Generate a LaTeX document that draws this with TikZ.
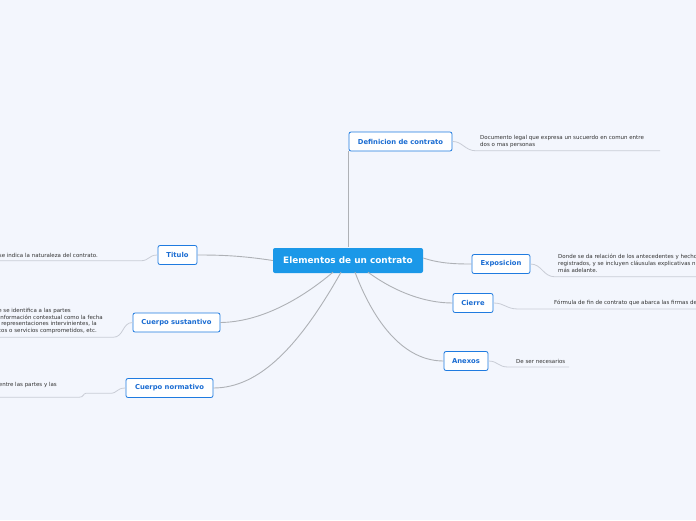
\documentclass[tikz,border=0pt]{standalone}
\usepackage{fontspec}
\setmainfont{DejaVu Sans}
\definecolor{bg}{HTML}{F3F6FD}
\definecolor{mainblue}{HTML}{1B98E8}
\definecolor{childblue}{HTML}{1F7BE0}
\definecolor{childtext}{HTML}{1A6CD2}
\definecolor{leafgray}{HTML}{333333}
\definecolor{linegray}{HTML}{AEB1B6}
\definecolor{leafline}{HTML}{C9CDD6}
\begin{document}
\begin{tikzpicture}[x=1pt,y=-1pt,
  mainnode/.style={fill=mainblue, rounded corners=2pt, text=white,
    font=\bfseries\fontsize{8.9}{10}\selectfont, minimum width=150pt, minimum height=25pt, inner sep=0pt},
  childnode/.style={draw=childblue, line width=0.8pt, fill=white, rounded corners=2pt,
    text=childtext, font=\bfseries\fontsize{6.8}{8}\selectfont, minimum height=19pt, inner sep=0pt},
  leaf/.style={text=leafgray, font=\fontsize{5.5}{6.7}\selectfont, inner sep=0pt, align=left},
  conn/.style={draw=linegray, line width=0.9pt},
  leafconn/.style={draw=leafline, line width=0.8pt}]
\fill[bg] (0,0) rectangle (696,520);
\useasboundingbox (0,0) rectangle (696,520);
\clip (0,0) rectangle (696,520);

% nodes
\node[mainnode] (c) at (348,260.5) {Elementos de un contrato};
\node[childnode, minimum width=103pt] (def) at (400.5,141.5) {Definicion de contrato};
\node[childnode, minimum width=58pt] (exp) at (501,264) {Exposicion};
\node[childnode, minimum width=40pt] (cie) at (473,303) {Cierre};
\node[childnode, minimum width=44pt] (anx) at (466,361) {Anexos};
\node[childnode, minimum width=39pt] (tit) at (177.5,255) {Titulo};
\node[childnode, minimum width=87pt] (sus) at (176.5,322.5) {Cuerpo sustantivo};
\node[childnode, minimum width=87pt] (nor) at (169.5,388) {Cuerpo normativo};

% leaf texts
\node[leaf, anchor=west] (ldef) at (480,141.6) {Documento legal que expresa un sucuerdo en comun entre\\dos o mas personas};
\node[leaf, anchor=west] (lexp) at (558,263.5) {Donde se da relación de los antecedentes y hecho\\registrados, y se incluyen cláusulas explicativas n\\más adelante.};
\node[leaf, anchor=west] (lcie) at (554,303) {Fórmula de fin de contrato que abarca las firmas de};
\node[leaf, anchor=west] (lanx) at (516,361) {De ser necesarios};
\node[leaf, anchor=east] (ltit) at (98,255) {se indica la naturaleza del contrato.};
\node[leaf, anchor=east] (lsus1) at (71,311) {e se identifica a las partes};
\node[leaf, anchor=east] (lsus2) at (103,317.6) {información contextual como la fecha};
\node[leaf, anchor=east] (lsus3) at (97,324.2) {representaciones intervinientes, la};
\node[leaf, anchor=east] (lsus4) at (97,330.8) {cos o servicios comprometidos, etc.};
\node[leaf, anchor=east] (lnor) at (57,385) {entre las partes y las};

% leaf underline end points
\coordinate (udef) at (660,150.8);
\coordinate (uexp) at (696,276.8);
\coordinate (ucie) at (696,309);
\coordinate (uanx) at (569,367);
\coordinate (utit) at (0,260.8);
\coordinate (usus) at (0,337.3);
\coordinate (unor) at (0,397.3);

% main connectors
\draw[conn] ([xshift=0pt]c.north) ++(0,-1) coordinate (cn) -- (cn |- def.south);
\draw[conn] (c.west) .. controls (240,255.5) and (220,255) .. (tit.east);
\draw[conn] ([yshift=2.5pt]c.east) .. controls (440,263.5) and (455,264) .. (exp.west);
\draw[conn] ([xshift=20pt,yshift=1pt]c.south) .. controls (395,292) and (425,303) .. (cie.west);
\draw[conn] ([xshift=7pt,yshift=1pt]c.south) .. controls (375,325) and (405,361) .. (anx.west);
\draw[conn] ([xshift=-15pt,yshift=1pt]c.south) .. controls (300,300) and (260,322) .. (sus.east);
\draw[conn] ([xshift=-7pt,yshift=1pt]c.south) .. controls (300,345) and (260,388) .. (nor.east);

% leaf connectors
\draw[leafconn] (def.east) .. controls (462,141) and (465,150.8) .. (476,150.8) -- (udef);
\draw[leafconn] (exp.east) .. controls (542,264) and (543,276.8) .. (555,276.8) -- (uexp);
\draw[leafconn] (cie.east) .. controls (505,303) and (506,309) .. (518,309) -- (ucie);
\draw[leafconn] (anx.east) .. controls (498,361) and (498,367) .. (508,367) -- (uanx);
\draw[leafconn] (tit.west) .. controls (148,255) and (150,260.8) .. (140,260.8) -- (utit);
\draw[leafconn] (sus.west) .. controls (122,322.5) and (124,337.3) .. (113,337.3) -- (usus);
\draw[leafconn] (nor.west) .. controls (116,388) and (118,393.3) .. (110,393.3) -- (86,393.3)
  .. controls (83,393.3) and (84,397.3) .. (79,397.3) -- (unor);
\end{tikzpicture}
\end{document}
